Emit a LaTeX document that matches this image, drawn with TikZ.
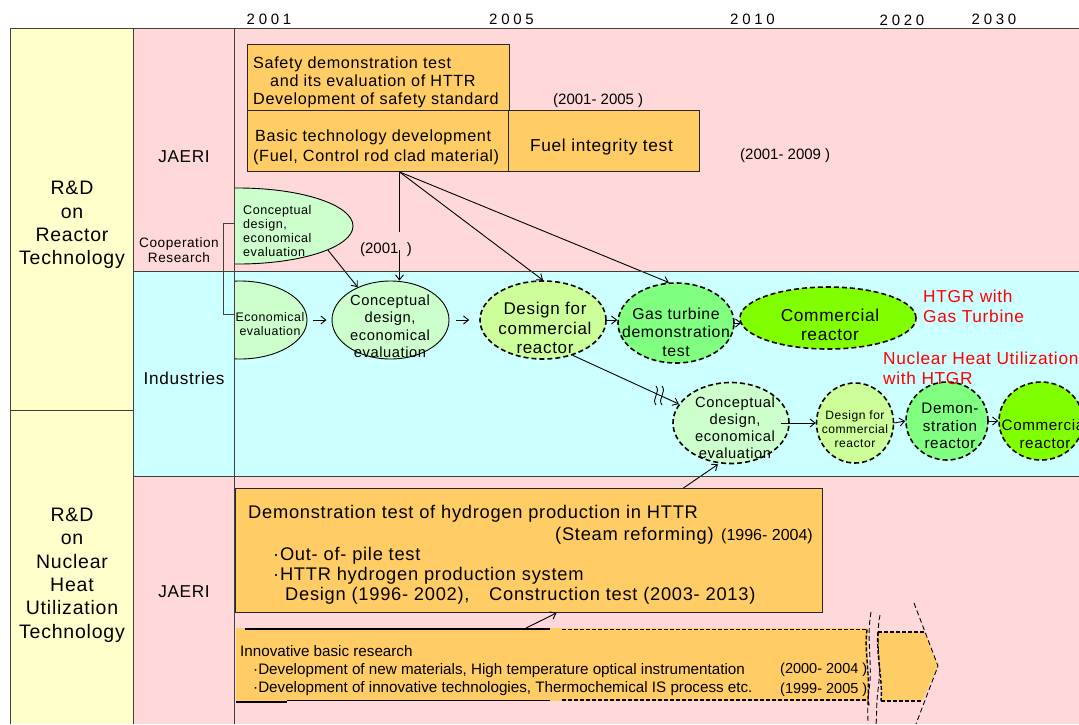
\documentclass[tikz,border=0pt]{standalone}
\usepackage{fontspec}
\setmainfont{Liberation Sans}[LetterSpace=4]
\newfontfamily\yearfont{Liberation Sans}[LetterSpace=25]
\newfontfamily\plainfont{Liberation Sans}
\usetikzlibrary{arrows.meta,shapes.geometric,calc}
\definecolor{pinkbg}{RGB}{255,217,217}
\definecolor{bluebg}{RGB}{204,255,255}
\definecolor{yellowbg}{RGB}{255,255,204}
\definecolor{orangebox}{RGB}{255,204,102}
\definecolor{lgreen}{RGB}{204,255,204}
\definecolor{ygreen}{RGB}{204,255,153}
\definecolor{mgreen}{RGB}{128,255,128}
\definecolor{bgreen}{RGB}{128,255,0}
\definecolor{gridcol}{RGB}{64,64,64}
\newcommand{\fsz}[2]{\fontsize{#1}{#2}\selectfont}
\tikzset{
  gridln/.style={draw=gridcol, line width=0.9pt},
  obox/.style={rectangle, draw=black!85, line width=0.9pt, fill=orangebox, inner sep=0pt, anchor=north west},
  ell/.style={ellipse, inner sep=0pt, draw=black, line width=0.9pt},
  dell/.style={ellipse, inner sep=0pt, draw=black, line width=1.6pt, dash pattern=on 5pt off 3pt},
  txt/.style={inner sep=0pt, text=black},
  lt/.style={txt, anchor=base west},
  arr/.style={-{Straight Barb[length=5pt,width=8pt]}, line width=0.9pt},
  ln/.style={line width=0.9pt},
  thickdash/.style={line width=1.4pt, dash pattern=on 4pt off 2pt},
  thindash/.style={line width=0.9pt, dash pattern=on 5pt off 3pt},
}
\begin{document}
\begin{tikzpicture}[x=1pt,y=-1pt]
\useasboundingbox (0,0) rectangle (1079,724);
\clip (0,0) rectangle (1079,724);
% backgrounds
\fill[white] (0,0) rectangle (1079,724);
\fill[yellowbg] (10,28) rectangle (133,724);
\fill[pinkbg] (133,28) rectangle (1079,271);
\fill[bluebg] (133,271) rectangle (1079,476);
\fill[pinkbg] (133,476) rectangle (1079,724);
% year labels
\node[txt, anchor=base, font=\yearfont\fsz{15}{15}] (y01) at (269,24) {2001};
\node[txt, anchor=base, font=\yearfont\fsz{15}{15}] (y05) at (511.5,24) {2005};
\node[txt, anchor=base, font=\yearfont\fsz{15}{15}] (y10) at (752.5,24) {2010};
\node[txt, anchor=base, font=\yearfont\fsz{15}{15}] (y20) at (902,25) {2020};
\node[txt, anchor=base, font=\yearfont\fsz{15}{15}] (y30) at (994,24) {2030};
% top boxes
\node[obox, minimum width=262pt, minimum height=66pt] (safety) at (247,44) {};
\node[obox, minimum width=261pt, minimum height=61pt] (basic) at (247,110) {};
\node[obox, minimum width=191pt, minimum height=61pt] (fuel) at (508,110) {};
\begin{scope}[font=\fsz{16.2}{17.7}]
\node[lt] (s1) at (253,68.5) {Safety demonstration test};
\node[lt] (s2) at (270,86.2) {and its evaluation of HTTR};
\node[lt] (s3) at (253,104) {Development of safety standard};
\node[lt] (b1) at (255,141) {Basic technology development};
\node[lt] (b2) at (253,161) {(Fuel, Control rod clad material)};
\end{scope}
\node[txt, anchor=base, font=\fsz{17.3}{18}] (fueltxt) at (601.5,151) {Fuel integrity test};
\node[lt, font=\plainfont\fsz{15}{15}] (d0105) at (553,104) {(2001- 2005 )};
\node[lt, font=\plainfont\fsz{15}{15}] (d0109) at (740,159) {(2001- 2009 )};
% clipped ellipses at left edge
\begin{scope}
\clip (234,28) rectangle (1079,724);
\node[ell, fill=lgreen, minimum width=230pt, minimum height=76pt] (cel) at (238,226) {};
\node[ell, fill=lgreen, minimum width=134pt, minimum height=78pt] (eco) at (240,320) {};
\end{scope}
% ellipses
\node[ell, fill=lgreen, minimum width=117pt, minimum height=78pt] (cd1) at (390.5,320) {};
\node[dell, fill=ygreen, minimum width=126pt, minimum height=78pt] (dfc) at (543,320) {};
\node[dell, fill=mgreen, minimum width=116pt, minimum height=80pt] (gas) at (676,323) {};
\node[dell, fill=bgreen, minimum width=176pt, minimum height=62pt] (com) at (828,318) {};
\node[dell, fill=lgreen, minimum width=116pt, minimum height=81pt] (cd2) at (731,423) {};
\node[dell, fill=ygreen, minimum width=77pt, minimum height=80pt] (dsm) at (855,423) {};
\node[dell, fill=mgreen, minimum width=82pt, minimum height=78pt] (dem) at (947,421) {};
\node[dell, fill=bgreen, minimum width=84pt, minimum height=78pt] (cm2) at (1041,421) {};
% hydrogen box
\node[obox, minimum width=587pt, minimum height=124pt] (hyd) at (235,488) {};
\begin{scope}[font=\fsz{18.3}{20}]
\node[lt] (h1) at (248,518) {Demonstration test of hydrogen production in HTTR};
\node[lt] (h2) at (555,540) {(Steam reforming)};
\node[lt] (h4) at (273,560) {·Out- of- pile test};
\node[lt] (h5) at (273,580) {·HTTR hydrogen production system};
\node[lt] (h6) at (285,600) {Design (1996- 2002),};
\node[lt] (h7) at (489,600) {Construction test (2003- 2013)};
\end{scope}
\node[lt, font=\plainfont\fsz{16}{16}] (h3) at (721,540) {(1996- 2004)};
% innovative research bar
\node[inner sep=0pt, fill=orangebox, minimum width=632pt, minimum height=73pt, anchor=north west] (inn) at (236,628) {};
\draw[line width=1.5pt] (245,629) -- (550,629);
\draw[thickdash] (562,629.5) -- (867,629.5);
\draw[line width=1.5pt] (236,702) -- (287,702);
\draw[line width=1.5pt] (287,700.5) -- (550,700.5);
\draw[thickdash] (562,700) -- (868,700);
\draw[thickdash] (867,629.5) .. controls (864,650) and (870,670) .. (868,700) -- (869,706);
\fill[orangebox] (878,632) -- (925,632) -- (938,666) -- (922,701) -- (881,701) .. controls (883,680) and (876,655) .. cycle;
\draw[thickdash] (878,632) -- (925,632);
\draw[thickdash] (881,701) -- (922,701);
\draw[thickdash] (878,632) .. controls (876,655) and (883,680) .. (881,701);
\draw[thindash] (871,612) .. controls (866,640) and (873,665) .. (869,690) .. controls (867,705) and (868,715) .. (868,724);
\draw[thindash] (880,615) .. controls (875,640) and (882,665) .. (878,690) .. controls (876,705) and (877,715) .. (876,724);
\draw[thindash] (914,603) -- (938,666) -- (916,724);
\begin{scope}[font=\plainfont\fsz{15.2}{18}]
\node[lt] (i1) at (240,656) {Innovative basic research};
\node[lt] (i2) at (253,674) {·Development of new materials, High temperature optical instrumentation};
\node[lt] (i3) at (253,692) {·Development of innovative technologies, Thermochemical IS process etc.};
\node[lt, font=\plainfont\fsz{14.5}{14.5}] (i4) at (780,673) {(2000- 2004 )};
\node[lt, font=\plainfont\fsz{14.5}{14.5}] (i5) at (780,693) {(1999- 2005 )};
\end{scope}
% labels in ellipses
\node[txt, anchor=west, align=left, font=\fsz{12.6}{14.3}] (celt) at (243,231) {Conceptual\\design,\\economical\\evaluation};
\node[txt, align=center, font=\fsz{12.4}{13.5}] (ecot) at (270,324) {Economical\\evaluation};
\node[txt, align=center, font=\fsz{14.7}{17.5}] (cd1t) at (390,326) {Conceptual\\design,\\economical\\evaluation};
\node[txt, align=center, font=\fsz{17}{19.5}] (dfct) at (545,328) {Design for\\commercial\\reactor};
\node[txt, align=center, font=\fsz{15.8}{18.5}] (gast) at (676,332) {Gas turbine\\demonstration\\test};
\node[txt, align=center, font=\fsz{17.3}{19}] (comt) at (830,325) {Commercial\\reactor};
\node[txt, align=center, font=\fsz{14.7}{17}] (cd2t) at (735,428) {Conceptual\\design,\\economical\\evaluation};
\node[txt, align=center, font=\fsz{12.1}{14}] (dsmt) at (855,429) {Design for\\commercial\\reactor};
\node[txt, align=center, font=\fsz{15.2}{17.5}] (demt) at (950,426) {Demon-\\stration\\reactor};
\node[txt, align=center, font=\fsz{15.2}{18}] (cm2t) at (1045,434) {Commercial\\reactor};
\node[txt, anchor=west, align=left, text=red, font=\fsz{17.3}{20}] (htgr) at (923,306) {HTGR with\\Gas Turbine};
\node[txt, anchor=west, align=left, text=red, font=\fsz{17.3}{20}] (nhu) at (883,368) {Nuclear Heat Utilization\\with HTGR};
% (2001) label
\node[txt, font=\plainfont\fsz{15}{15}] (y2001) at (386,250) {(2001~~)};
% arrows
\coordinate (bsrc) at ([xshift=21.5pt]basic.south);
\draw[ln] (bsrc) -- ($(bsrc |- y2001.north)+(0,-11)$);
\draw[arr] (bsrc |- y2001.center) -- (bsrc |- cd1.north);
\draw[arr] (bsrc) -- (dfc.north);
\draw[arr] (bsrc) -- (gas.100);
\draw[arr] (cel.-15) -- (cd1.135);
\draw[arr, shorten <=6pt, shorten >=5pt] (eco.east) -- (cd1.west);
\draw[arr, shorten <=7pt, shorten >=10pt] (cd1.east) -- (dfc.west);
\draw[arr] (dfc.east) -- (dfc.east -| gas.west);
\draw[arr, shorten <=-2pt, shorten >=-2pt] (gas.east) -- (gas.east -| com.west);
\draw[arr] (dfc.-50) -- (cd2.160);
\draw[ln] (656,386) .. controls (661,392) and (651,399) .. (656,405);
\draw[ln] (662,386) .. controls (667,392) and (657,399) .. (662,405);
\draw[arr, shorten <=-9pt] (cd2.east) -- (dsm.west);
\draw[arr] (dsm.east) -- (dem.west);
\draw[arr] (dem.east) -- (cm2.west);
\draw[arr] ([xshift=154.5pt]hyd.north) -- ([xshift=-13pt]cd2.south);
\draw[arr] ([xshift=-26pt]inn.north) -- ([xshift=27.5pt]hyd.south);
% grid lines
\draw[gridln] (10,28) -- (1079,28);
\draw[gridln] (10,28) -- (10,724);
\draw[gridln] (133,28) -- (133,724);
\draw[gridln] (234,28) -- (234,724);
\draw[gridln] (10,410) -- (133,410);
\draw[gridln] (133,271) -- (1079,271);
\draw[gridln] (133,476) -- (1079,476);
\draw[gridln] (234,223) -- (223,223) -- (223,314) -- (234,314);
% left labels
\node[txt, align=center, font=\fsz{19.5}{23.3}] (rdreactor) at (72,225) {R\&D\\on\\Reactor\\Technology};
\node[txt, align=center, font=\fsz{19.5}{23.4}] (rdheat) at (72,575) {R\&D\\on\\Nuclear\\Heat\\Utilization\\Technology};
\node[txt, font=\fsz{17.2}{18}] (jaeri1) at (184,157) {JAERI};
\node[txt, align=center, font=\fsz{13.6}{15}] (coop) at (179,250) {Cooperation\\Research};
\node[txt, font=\fsz{17.2}{18}] (ind) at (184,378) {Industries};
\node[txt, font=\fsz{17.2}{18}] (jaeri2) at (184,592) {JAERI};
\end{tikzpicture}
\end{document}
